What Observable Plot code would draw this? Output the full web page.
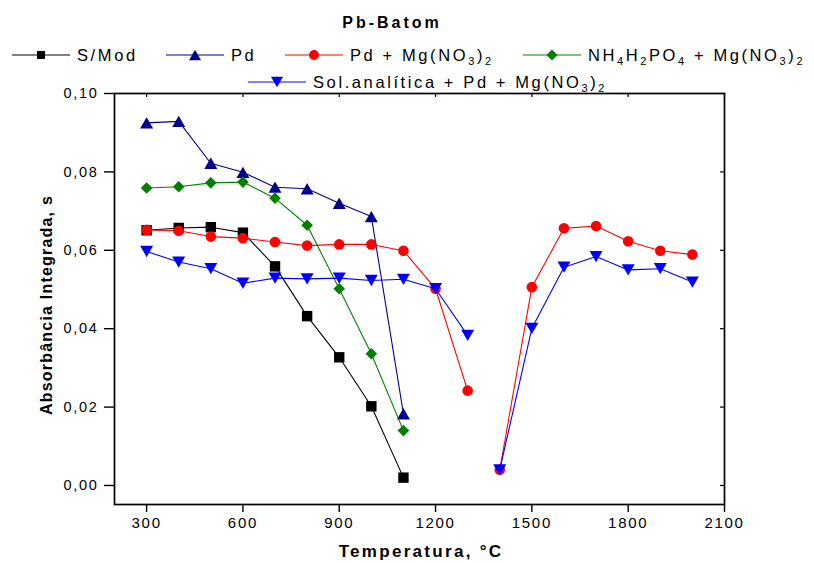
<!DOCTYPE html>
<html>
<head>
<meta charset="utf-8">
<script src="https://cdn.jsdelivr.net/npm/d3@7"></script>
<script src="https://cdn.jsdelivr.net/npm/@observablehq/plot@0.6"></script>
<style>
  body { margin: 0; background: #fff; }
  #chart { width: 814px; height: 563px; }
</style>
</head>
<body>
<div id="chart"></div>
<script>
// Pyrolysis temperatures (°C)
const temps = [300, 400, 500, 600, 700, 800, 900, 1000, 1100, 1200, 1300, 1400, 1500, 1600, 1700, 1800, 1900, 2000];

// Integrated absorbance (s) for each modifier
const sMod    = [0.0651, 0.0657, 0.0659, 0.0645, 0.0559, 0.0432, 0.0327, 0.0202, 0.0020];
const pd      = [0.0925, 0.0929, 0.0822, 0.0799, 0.0761, 0.0757, 0.0720, 0.0686, 0.0183];
const pdMg    = [0.0652, 0.0650, 0.0635, 0.0631, 0.0621, 0.0612, 0.0615, 0.0615, 0.0599, 0.0502, 0.0242,
                 0.0040, 0.0506, 0.0656, 0.0662, 0.0623, 0.0599, 0.0589];
const nh4Mg   = [0.0759, 0.0762, 0.0772, 0.0774, 0.0733, 0.0664, 0.0502, 0.0336, 0.0140];
const solPdMg = [0.0597, 0.0570, 0.0553, 0.0516, 0.0529, 0.0527, 0.0529, 0.0523, 0.0526, 0.0502, 0.0383,
                 0.0040, 0.0401, 0.0557, 0.0584, 0.0550, 0.0553, 0.0519];

// Series names ("_n" marks a subscript digit)
const seriesNames = ["S/Mod", "Pd", "Pd + Mg(NO_3)_2", "NH_4H_2PO_4 + Mg(NO_3)_2", "Sol.analítica + Pd + Mg(NO_3)_2"];

// Axis ticks
const xTicks = [300, 600, 900, 1200, 1500, 1800, 2100];
const yTicks = [0, 0.02, 0.04, 0.06, 0.08, 0.10];

// The curves are not joined across this interval (1300 → 1400 °C)
const gapAfter = 1300;

// Marker shapes, sized from the dot radius r
function poly(pts) {
  return {
    draw(ctx, size) {
      const r = Math.sqrt(size / Math.PI);
      pts.forEach(([px, py], i) => i ? ctx.lineTo(px * r, py * r) : ctx.moveTo(px * r, py * r));
      ctx.closePath();
    }
  };
}
const symSquare = poly([[-1, -1], [1, -1], [1, 1], [-1, 1]]);
const symUp = poly([[0, -0.87], [1, 0.87], [-1, 0.87]]);
const symDown = poly([[0, 0.87], [1, -0.87], [-1, -0.87]]);
const symDiamond = poly([[0, -1], [1, 0], [0, 1], [-1, 0]]);
const symCircle = {
  draw(ctx, size) {
    const r = Math.sqrt(size / Math.PI);
    ctx.moveTo(r, 0);
    ctx.arc(0, 0, r, 0, 2 * Math.PI);
  }
};

const series = [
  {name: seriesNames[0], values: sMod,    color: "#000000", symbol: symSquare,  r: 5.2, lr: 4},
  {name: seriesNames[1], values: pd,      color: "#00008f", symbol: symUp,      r: 6.5, lr: 6},
  {name: seriesNames[2], values: pdMg,    color: "#ff0000", symbol: symCircle,  r: 5.3, lr: 5},
  {name: seriesNames[3], values: nh4Mg,   color: "#008000", symbol: symDiamond, r: 5.8, lr: 5.5},
  {name: seriesNames[4], values: solPdMg, color: "#0000ff", symbol: symDown,    r: 6.5, lr: 6}
];

const marks = [];
for (const s of series) {
  const rows = s.values.map((v, j) => ({t: temps[j], v, run: temps[j] > gapAfter ? 1 : 0}));
  marks.push(Plot.line(rows, {x: "t", y: "v", z: "run", stroke: s.color, strokeWidth: 1.1}));
  marks.push(Plot.dot(rows, {x: "t", y: "v", symbol: s.symbol, r: s.r, fill: s.color, stroke: "none"}));
}

const FONT = "'Liberation Sans', Arial, Helvetica, sans-serif";

const chart = Plot.plot({
  width: 814,
  height: 563,
  marginTop: 93,
  marginBottom: 59,
  marginLeft: 114,
  marginRight: 90,
  style: {fontFamily: FONT, letterSpacing: "1.7px", color: "#000", background: "#fff"},
  x: {domain: [200, 2100]},
  y: {domain: [-0.00485, 0.10]},
  marks: [
    ...marks,
    Plot.frame({stroke: "#000", strokeWidth: 1.7}),
    Plot.ruleX(xTicks, {x: d => d, y1: 0.10, y2: 0.10, insetBottom: -4, stroke: "#000", strokeWidth: 1.2}),
    Plot.ruleY(yTicks, {y: d => d, x1: 2100, x2: 2100, insetLeft: -4, stroke: "#000", strokeWidth: 1.2}),
    Plot.axisX(xTicks, {tickSize: 8, tickPadding: 5, fontSize: 15, tickFormat: d => String(d), label: null, strokeWidth: 1.4}),
    Plot.axisY(yTicks, {tickSize: 10, tickPadding: 6, fontSize: 14.5, tickFormat: d => d.toFixed(2).replace(".", ","), label: null, strokeWidth: 1.4})
  ]
});
document.getElementById("chart").append(chart);

// Title, axis titles and legend
const svg = d3.select(chart);

svg.append("text")
  .attr("x", 392).attr("y", 28)
  .attr("text-anchor", "middle")
  .style("font", `bold 16px ${FONT}`).style("letter-spacing", "3px")
  .text("Pb-Batom");

svg.append("text")
  .attr("x", 421).attr("y", 557)
  .attr("text-anchor", "middle")
  .style("font", `bold 17px ${FONT}`).style("letter-spacing", "2.3px")
  .text("Temperatura, °C");

svg.append("text")
  .attr("transform", "translate(52,305) rotate(-90)")
  .attr("text-anchor", "middle")
  .style("font", `bold 16px ${FONT}`).style("letter-spacing", "1.2px")
  .text("Absorbância Integrada, s");

// Legend entries: line start x and row for each series
const legendLayout = [
  {x: 12, row: 0}, {x: 166, row: 0}, {x: 285, row: 0}, {x: 523, row: 0}, {x: 248, row: 1}
];
const rowLineY = [55, 82];
const rowTextY = [61, 88];

series.forEach((s, i) => {
  const {x, row} = legendLayout[i];
  const g = svg.append("g");
  g.append("line")
    .attr("x1", x).attr("x2", x + 58)
    .attr("y1", rowLineY[row]).attr("y2", rowLineY[row])
    .attr("stroke", s.color).attr("stroke-width", 1.1);
  const p = d3.path();
  s.symbol.draw(p, Math.PI * s.lr * s.lr);
  g.append("path")
    .attr("d", p.toString())
    .attr("transform", `translate(${x + 29},${rowLineY[row]})`)
    .attr("fill", s.color);
  const t = g.append("text")
    .attr("x", x + 65).attr("y", rowTextY[row])
    .attr("text-anchor", "start")
    .style("font", `16.5px ${FONT}`).style("letter-spacing", "2.6px");
  // split the name into normal text and subscript digits
  const parts = s.name.split(/_(\d)/);
  let shifted = false;
  parts.forEach((part, k) => {
    if (!part) return;
    const span = t.append("tspan").text(part);
    if (k % 2 === 1) {
      span.attr("dy", shifted ? 0 : 4).style("font-size", "11px");
      shifted = true;
    } else if (shifted) {
      span.attr("dy", -4);
      shifted = false;
    }
  });
});
</script>
</body>
</html>
